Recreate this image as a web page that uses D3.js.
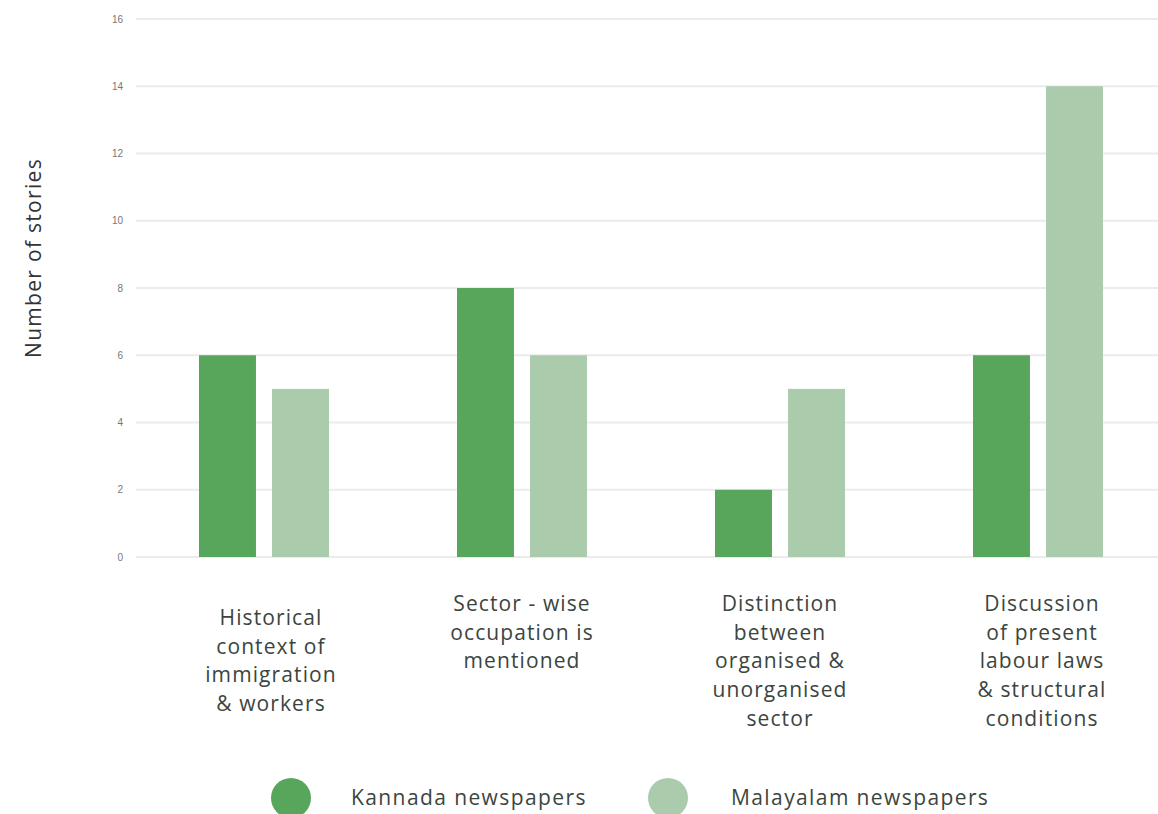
<!DOCTYPE html>
<html>
<head>
<meta charset="utf-8">
<script src="https://cdn.jsdelivr.net/npm/d3@7"></script>
<style>
  body { margin: 0; background: #fff; }
  svg { display: block; }
</style>
</head>
<body>
<div id="chart"></div>
<script>
const categories = [
    ['Historical', 'context of', 'immigration', '& workers'],
    ['Sector - wise', 'occupation is', 'mentioned'],
    ['Distinction', 'between', 'organised &', 'unorganised', 'sector'],
    ['Discussion', 'of present', 'labour laws', '& structural', 'conditions']
];
const seriesNames = ['Kannada newspapers', 'Malayalam newspapers'];
const kannada = [6, 8, 2, 6];
const malayalam = [5, 6, 5, 14];
const yTicks = [0, 2, 4, 6, 8, 10, 12, 14, 16];
const colors = ['#58a65b', '#abcbad'];

const width = 1158, height = 814;
const svg = d3.select('#chart').append('svg').attr('width', width).attr('height', height);

const x0 = d3.scaleBand().domain(d3.range(categories.length)).range([135, 1167]);
const x1 = d3.scaleBand().domain([0, 1]).range([64, 194]).paddingInner(0.22);
const y = d3.scaleLinear().domain([0, 16]).range([557, 19]);

// grid + ticks
const grid = svg.append('g').attr('class', 'grid');
grid.selectAll('line').data(yTicks).enter().append('line')
    .attr('x1', 136).attr('x2', width)
    .attr('y1', d => y(d)).attr('y2', d => y(d))
    .attr('stroke', '#ebebeb').attr('stroke-width', 2);
grid.selectAll('text').data(yTicks).enter().append('text')
    .attr('x', 123).attr('y', d => y(d)).attr('dy', '.35em')
    .attr('text-anchor', 'end')
    .style('font', '10px "Liberation Sans", Arial, sans-serif')
    .attr('fill', '#777')
    .text(d => d);

// bars
const rows = categories.map((c, i) => [kannada[i], malayalam[i]]);
const groups = svg.append('g').selectAll('g').data(rows).enter().append('g')
    .attr('transform', (d, i) => 'translate(' + x0(i) + ',0)');
groups.selectAll('rect').data(d => d).enter().append('rect')
    .attr('x', (d, j) => x1(j))
    .attr('width', x1.bandwidth())
    .attr('y', d => y(d))
    .attr('height', d => y(0) - y(d))
    .attr('fill', (d, j) => colors[j]);

// category labels (the first one sits half a line lower, as in the original)
const labelFont = '21px "Open Sans", Lato, sans-serif';
const cats = svg.append('g').selectAll('text').data(categories).enter().append('text')
    .attr('x', (d, i) => x0(i) + x0.bandwidth() / 2 + (i === 0 ? 7 : i === 3 ? 4 : 0))
    .attr('y', (d, i) => i === 0 ? 625 : 611)
    .attr('text-anchor', 'middle')
    .attr('fill', '#3b4540')
    .style('font', labelFont)
    .style('letter-spacing', '1.1px');
cats.each(function (lines) {
    const t = d3.select(this);
    lines.forEach((line, k) => {
        t.append('tspan')
            .attr('x', t.attr('x'))
            .attr('dy', k === 0 ? 0 : 28.7)
            .text(line);
    });
});

// y axis title
svg.append('text')
    .attr('transform', 'translate(41,258) rotate(-90)')
    .attr('text-anchor', 'middle')
    .attr('fill', '#333')
    .style('font', '21px "Open Sans", Lato, sans-serif')
    .style('letter-spacing', '1.3px')
    .text('Number of stories');

// legend
const legendX = [291, 668];
const legend = svg.append('g').selectAll('g').data(seriesNames).enter().append('g')
    .attr('transform', (d, i) => 'translate(' + legendX[i] + ',798)');
legend.append('circle').attr('r', 20).attr('fill', (d, i) => colors[i]);
legend.append('text')
    .attr('x', (d, i) => i === 0 ? 60 : 63)
    .attr('dy', '.35em')
    .attr('fill', '#3b4540')
    .style('font', labelFont)
    .style('letter-spacing', '1.4px')
    .text(d => d);
</script>
</body>
</html>
